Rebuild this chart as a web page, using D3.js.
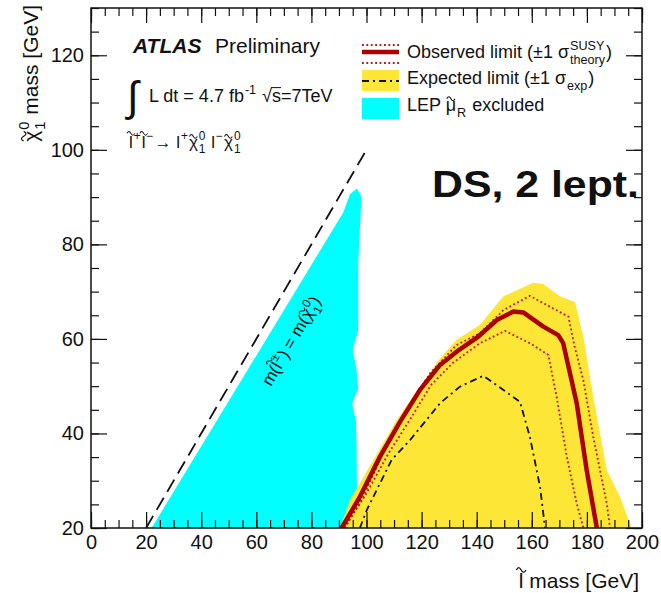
<!DOCTYPE html>
<html>
<head>
<meta charset="utf-8">
<script src="https://cdn.jsdelivr.net/npm/d3@7/dist/d3.min.js"></script>
<style>
 body { margin: 0; background: #fff; }
 text { font-family: "Liberation Sans", Arial, Helvetica, sans-serif; fill: #111; white-space: pre; }
</style>
</head>
<body>
<svg id="chart" width="661" height="593"></svg>
<script>
// all values in GeV: [slepton mass, neutralino mass]
var lepExcluded = [[22,20],[91.5,86.7],[94,90.6],[96.5,91.8],[98.2,90.1],[97.6,83.1],[97.0,76.0],
  [97.0,61.9],[95.0,57.7],[96.4,53.4],[97.0,49.5],[94.8,46.4],[96.2,42.5],[96.4,37.2],[96.6,23.8],[96.5,20]];
var expBand = [[90.4,20],[94.0,25.9],[102.5,34.4],[111.0,42.9],[119.4,49.9],[126.7,55.9],[132.7,59.8],
  [141.2,63.0],[149.7,69.0],[160.5,71.9],[164.2,71.6],[170.2,69.0],[175.7,67.8],[178.7,60.5],
  [182.3,47.8],[187.2,32.3],[192.0,26.6],[196.3,20]];
var obsLimit = [[91.0,20],[97.6,26.6],[104.9,35.1],[112.2,42.5],[119.4,49.2],[126.7,54.5],[132.7,57.3],
  [140.6,60.5],[147.3,64.0],[153.3,65.8],[156.9,65.6],[164.2,62.6],[169.6,60.8],[171.4,59.1],
  [176.3,46.4],[179.9,32.3],[183.6,20]];
var obsTheoryUp = [[92.2,20],[98.8,26.6],[106.1,36.1],[114.6,45.0],[123.0,52.7],[132.7,58.7],[141.2,61.2],
  [149.7,66.1],[159.3,69.1],[173.3,64.7],[175.5,58.5],[178.7,51.3],[182.3,39.3],[187.2,25.2],[188.4,20]];
var obsTheoryDown = [[91.8,20],[99.5,26.8],[107.8,35.6],[116.3,43.4],[123.5,50.3],[131.5,55.0],[141.2,59.1],
  [150.3,61.7],[159.3,59.1],[166.0,56.6],[169.0,47.8],[172.7,35.1],[176.3,25.2],[178.7,20]];
var expLimit = [[97.6,20],[100.1,23.8],[109.1,34.4],[115.8,38.6],[126.7,46.4],[133.9,49.9],[142.4,52.2],
  [149.7,49.2],[155.7,46.7],[159.3,39.3],[163.0,28.7],[164.8,20]];
var kinematicLine = [[20,20],[100,100]];

var xMajor = d3.range(0, 201, 20), xMinor = d3.range(0, 201, 5);
var yMajor = d3.range(20, 121, 20), yMinor = d3.range(20, 131, 5);

var margin = {top: 8, right: 19, bottom: 65, left: 91};
var W = 661 - margin.left - margin.right, H = 593 - margin.top - margin.bottom;

var svg = d3.select("#chart");
var g = svg.append("g").attr("transform", "translate(" + margin.left + "," + margin.top + ")");

var x = d3.scaleLinear().domain([0, 200]).range([0, W]);
var y = d3.scaleLinear().domain([20, 130]).range([H, 0]);

g.append("clipPath").attr("id", "clip").append("rect").attr("width", W).attr("height", H);
var plot = g.append("g").attr("clip-path", "url(#clip)");

var line = d3.line().x(function(d){ return x(d[0]); }).y(function(d){ return y(d[1]); });

plot.append("path").attr("d", line(lepExcluded) + "Z").attr("fill", "#00ffff");
plot.append("path").attr("d", line(expBand) + "Z").attr("fill", "#fde636");
plot.append("path").attr("d", line(kinematicLine)).attr("fill", "none")
    .attr("stroke", "#111").attr("stroke-width", 1.8).attr("stroke-dasharray", "14,7");
[obsTheoryUp, obsTheoryDown].forEach(function(s){
  plot.append("path").attr("d", line(s)).attr("fill", "none")
      .attr("stroke", "#c81010").attr("stroke-width", 1.8).attr("stroke-dasharray", "1.8,2.6");
});
plot.append("path").attr("d", line(expLimit)).attr("fill", "none")
    .attr("stroke", "#111").attr("stroke-width", 1.8).attr("stroke-dasharray", "7,4,2,4");
plot.append("path").attr("d", line(obsLimit)).attr("fill", "none")
    .attr("stroke", "#aa0000").attr("stroke-width", 4.5).attr("stroke-linejoin", "round");

// axes, ticks pointing inwards
function ticks(axis, sel, vals, len, labels) {
  sel.call(axis.tickValues(vals).tickSize(-len).tickPadding(7)
      .tickFormat(labels ? d3.format("d") : ""));
  sel.select(".domain").remove();
  sel.selectAll("line").attr("stroke", "#111").attr("stroke-width", 1.2);
  sel.selectAll("text").style("font-size", "20px").attr("fill", "#111");
}
ticks(d3.axisBottom(x), g.append("g").attr("transform", "translate(0," + H + ")"), xMinor, 8, false);
ticks(d3.axisBottom(x), g.append("g").attr("transform", "translate(0," + H + ")"), xMajor, 16, true);
ticks(d3.axisTop(x), g.append("g"), xMinor, 8, false);
ticks(d3.axisTop(x), g.append("g"), xMajor, 15, false);
ticks(d3.axisLeft(y), g.append("g"), yMinor, 8, false);
ticks(d3.axisLeft(y), g.append("g"), yMajor, 16, true);
ticks(d3.axisRight(y), g.append("g").attr("transform", "translate(" + W + ",0)"), yMinor, 8, false);
ticks(d3.axisRight(y), g.append("g").attr("transform", "translate(" + W + ",0)"), yMajor, 16, false);
g.append("rect").attr("width", W).attr("height", H).attr("fill", "none")
    .attr("stroke", "#111").attr("stroke-width", 1.5);

// small drawn tilde, centred at (cx, ty)
function tilde(sel, cx, ty, size) {
  var tw = size * 0.46, h = size * 0.09, x0 = cx - tw / 2;
  sel.append("path")
     .attr("d", "M" + x0 + "," + ty + " c" + (tw / 6) + "," + (-h * 1.6) + " " + (tw / 3) + "," + (-h * 1.6) + " " + (tw / 2) + ",0"
        + " s" + (tw / 3) + "," + (h * 1.6) + " " + (tw / 2) + ",0")
     .attr("fill", "none").attr("stroke", "#111").attr("stroke-width", Math.max(1, size * 0.06));
}

// text with ROOT-like sub/superscripts and tildes
function rich(sel, x0, y0, size, parts) {
  var cx = x0;
  parts.forEach(function(p){
    if (typeof p === "string") {
      var t = sel.append("text").attr("x", cx).attr("y", y0).style("font-size", size + "px").text(p);
      cx += t.node().getComputedTextLength();
    } else if (p.t) {
      var t2 = sel.append("text").attr("x", cx).attr("y", y0).style("font-size", size + "px").text(p.t);
      var w = t2.node().getComputedTextLength();
      if (p.tilde) tilde(sel, cx + w / 2, y0 - size * (p.t === "l" ? 0.86 : 0.68), size);
      if (p.over) {
        sel.append("line").attr("x1", cx - 1).attr("x2", cx + w).attr("y1", y0 - size * 0.8).attr("y2", y0 - size * 0.8)
           .attr("stroke", "#111").attr("stroke-width", 1);
      }
      cx += w;
    } else {
      var s = size * 0.7, ww = 0;
      if (p.sup) {
        var a = sel.append("text").attr("x", cx + 1).attr("y", y0 - size * 0.45).style("font-size", s + "px").text(p.sup);
        ww = Math.max(ww, a.node().getComputedTextLength());
      }
      if (p.sub) {
        var b = sel.append("text").attr("x", cx + 1).attr("y", y0 + size * 0.32).style("font-size", s + "px").text(p.sub);
        ww = Math.max(ww, b.node().getComputedTextLength());
      }
      cx += ww + 2;
    }
  });
  return cx - x0;
}

// ATLAS label
svg.append("text").attr("x", 133).attr("y", 53).style("font-size", "21px")
   .style("font-weight", "bold").style("font-style", "italic").text("ATLAS");
svg.append("text").attr("x", 215).attr("y", 53).style("font-size", "21px").text("Preliminary");
svg.append("text").attr("x", 127).attr("y", 111).style("font-size", "42px").text("\u222B");
rich(svg, 149, 102, 18, ["L dt = 4.7 fb", {sup: "-1"}, " \u221A", {t: "s", over: true}, "=7TeV"]);
rich(svg, 129, 148, 17, [{t: "l", tilde: true}, {sup: "+"}, {t: "l", tilde: true}, {sup: "\u2212"}, "\u2192 l",
  {sup: "+"}, {t: "\u03C7", tilde: true}, {sup: "0", sub: "1"}, " l", {sup: "\u2212"},
  {t: "\u03C7", tilde: true}, {sup: "0", sub: "1"}]);

// legend
var lg = svg.append("g");
lg.append("line").attr("x1", 362).attr("x2", 399).attr("y1", 45).attr("y2", 45)
  .attr("stroke", "#c81010").attr("stroke-width", 1.8).attr("stroke-dasharray", "1.8,2.6");
lg.append("line").attr("x1", 362).attr("x2", 399).attr("y1", 63).attr("y2", 63)
  .attr("stroke", "#c81010").attr("stroke-width", 1.8).attr("stroke-dasharray", "1.8,2.6");
lg.append("line").attr("x1", 362).attr("x2", 399).attr("y1", 52).attr("y2", 52)
  .attr("stroke", "#aa0000").attr("stroke-width", 4.5);
lg.append("rect").attr("x", 362).attr("y", 70).attr("width", 37).attr("height", 21).attr("fill", "#fde636");
lg.append("line").attr("x1", 362).attr("x2", 399).attr("y1", 81).attr("y2", 81)
  .attr("stroke", "#111").attr("stroke-width", 1.8).attr("stroke-dasharray", "7,4,2,4");
lg.append("rect").attr("x", 362).attr("y", 98).attr("width", 37).attr("height", 21).attr("fill", "#00ffff");
rich(lg, 407, 58, 18, ["Observed limit (\u00B11 \u03C3", {sup: "SUSY", sub: "theory"}, ")"]);
rich(lg, 407, 84, 18, ["Expected limit (\u00B11 \u03C3", {sub: "exp"}, ")"]);
rich(lg, 407, 111, 18, ["LEP ", {t: "\u03BC", tilde: true}, {sub: "R"}, " excluded"]);

svg.append("text").attr("x", 432).attr("y", 197).style("font-size", "36px").style("font-weight", "bold")
   .attr("textLength", 207).attr("lengthAdjust", "spacingAndGlyphs").text("DS, 2 lept.");

// axis titles
var xt = svg.append("g");
var xw = rich(xt, 0, 0, 21, [{t: "l", tilde: true}, " mass [GeV]"]);
xt.attr("transform", "translate(" + (639 - xw) + ",588)");
var yt = svg.append("g");
var yw = rich(yt, 0, 0, 21, [{t: "\u03C7", tilde: true}, {sup: "0", sub: "1"}, " mass [GeV]"]);
yt.attr("transform", "translate(38," + (5 + yw) + ") rotate(-90)");

// label along the kinematic limit
var ang = Math.atan2(y(20) - y(100), x(100) - x(20)) * 180 / Math.PI;
var dg = g.append("g").attr("transform", "translate(" + x(72.6) + "," + y(59.6) + ") rotate(" + (-ang) + ")");
var dl = dg.append("g");
var dw = rich(dl, 0, 0, 17, ["m(", {t: "l", tilde: true}, {sup: "\u00B1"}, ") = m(", {t: "\u03C7", tilde: true},
  {sup: "0", sub: "1"}, ")"]);
dl.attr("transform", "translate(" + (-dw / 2) + ",6)");
</script>
</body>
</html>
